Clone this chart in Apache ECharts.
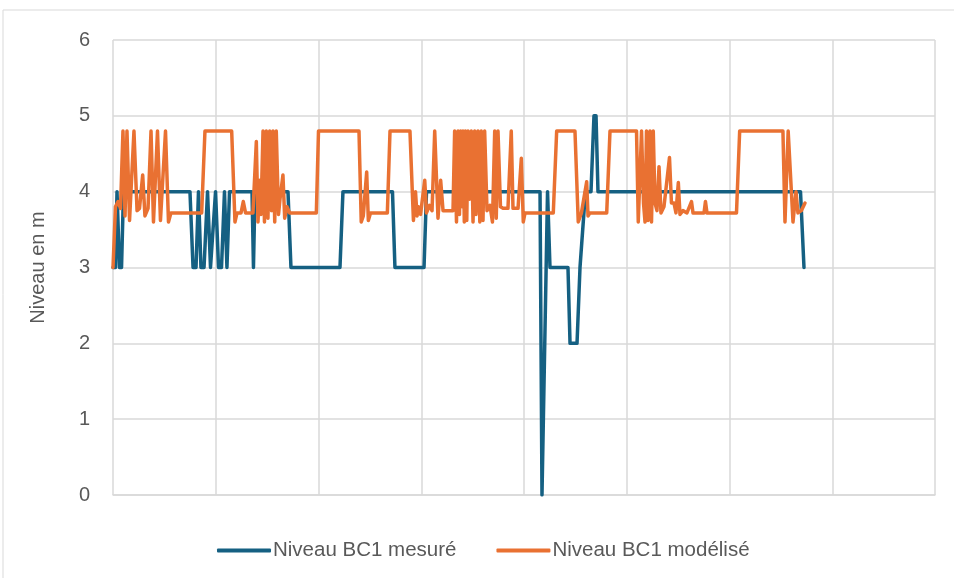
<!DOCTYPE html>
<html>
<head>
<meta charset="utf-8">
<script src="https://cdn.jsdelivr.net/npm/echarts@6/dist/echarts.min.js"></script>
<style>
  html, body { margin: 0; padding: 0; background: #ffffff; }
  #chart { width: 954px; height: 578px; }
</style>
</head>
<body>
<div id="chart"></div>
<script>
// Pas de temps (axe horizontal sans étiquettes) et niveaux en m
const mesureX = [0, 2.4, 3.9, 6.3, 8.3, 10.2, 74.9, 77.9, 80.8, 83.2, 85.6, 88.6, 92.0, 94.9, 96.8, 99.8,
  102.7, 105.6, 108.5, 110.9, 113.4, 135.3, 136.7, 138.2, 170.3, 173.2, 220.9, 223.8, 272.0, 274.4,
  302.7, 305.1, 415.6, 417.5, 422.9, 425.3, 442.8, 444.8, 451.6, 454.5, 456.4, 459.8, 465.2, 468.1,
  470.1, 472.0, 669.1, 672.5];
const mesureNiveau = [3, 3, 4, 3, 3, 4, 4, 3, 3, 4, 3, 3, 4, 3, 3, 4,
  3, 3, 4, 3, 4, 4, 3, 4, 4, 3, 3, 4, 4, 3,
  3, 4, 4, 0, 4, 3, 3, 2, 2, 3, 3, 4, 4, 5,
  5, 4, 4, 3];

const modeleX = [0, 2.4, 4.9, 7.3, 9.7, 11.7, 13.6, 16.1, 20.4, 23.4, 25.8, 28.9, 31.1, 34.1, 37.0, 39.4,
  43.3, 46.2, 51.1, 54.0, 56.4, 86.3, 89.5, 115.5, 118.7, 120.7, 124.6, 126.8, 129.0, 136.2, 139.5,
  141.1, 142.8, 144.0, 146.0, 147.4, 149.2, 150.8, 152.5, 154.3, 155.7, 157.4, 158.9, 161.1, 162.5,
  165.4, 167.1, 169.3, 172.0, 197.9, 200.0, 239.4, 241.6, 243.6, 246.9, 248.5, 250.6, 267.0, 269.6,
  289.0, 292.4, 294.4, 295.9, 297.3, 299.3, 303.4, 305.1, 308.0, 310.5, 313.1, 316.3, 318.9, 321.2,
  330.9, 332.5, 334.3, 335.8, 337.2, 338.4, 339.7, 340.6, 341.9, 342.9, 344.3, 345.5, 347.0, 348.7,
  350.4, 352.0, 353.3, 355.2, 357.0, 358.4, 360.1, 361.7, 364.0, 366.9, 369.3, 371.5, 373.0, 374.7,
  377.1, 379.6, 384.4, 387.6, 389.3, 394.2, 397.4, 399.3, 401.0, 428.5, 431.8, 449.6, 452.8, 455.9,
  457.4, 461.0, 462.3, 464.2, 480.5, 483.7, 509.5, 511.2, 514.4, 516.3, 517.8, 519.2, 520.7, 522.6,
  524.1, 525.8, 527.5, 529.4, 531.4, 533.3, 536.2, 541.6, 543.5, 546.0, 547.9, 550.2, 551.8, 554.7,
  558.6, 563.0, 564.5, 575.2, 576.6, 578.1, 606.8, 609.9, 652.0, 654.0, 657.1, 661.8, 664.7, 666.6,
  669.9, 673.5];
const modeleNiveau = [3.0, 3.8, 3.87, 3.78, 4.8, 3.68, 4.8, 3.62, 4.8, 3.75, 3.78, 4.22, 3.68, 3.78, 4.8, 3.6,
  4.8, 3.62, 4.8, 3.6, 3.72, 3.72, 4.8, 4.8, 3.6, 3.72, 3.72, 3.87, 3.72, 3.72, 4.66,
  3.6, 4.15, 3.7, 4.8, 3.6, 4.8, 3.65, 4.8, 3.75, 4.8, 3.6, 4.8, 3.7, 3.9,
  4.22, 3.65, 3.8, 3.72, 3.72, 4.8, 4.8, 3.6, 3.68, 4.26, 3.62, 3.72, 3.72, 4.8,
  4.8, 3.62, 4.0, 3.68, 3.8, 3.7, 4.15, 3.72, 3.82, 3.75, 4.8, 3.65, 4.15, 3.75,
  3.75, 4.8, 3.6, 4.8, 3.7, 4.8, 3.8, 4.8, 3.6, 4.8, 3.62, 4.8, 3.9, 4.8,
  3.6, 4.8, 3.7, 4.8, 3.6, 4.8, 3.62, 4.8, 3.75, 3.82, 3.6, 4.8, 3.65, 4.8,
  3.8, 3.78, 3.78, 4.8, 3.78, 3.78, 4.44, 3.6, 3.72, 3.72, 4.8, 4.8, 3.6, 3.72,
  3.72, 4.13, 3.68, 3.72, 3.72, 4.8, 4.8, 3.6, 4.8, 3.85, 3.6, 4.8, 3.62, 4.8,
  3.6, 4.8, 3.85, 3.75, 4.33, 3.72, 3.8, 4.45, 3.85, 3.85, 3.72, 4.12, 3.7, 3.75,
  3.72, 3.87, 3.72, 3.72, 3.87, 3.72, 3.72, 4.8, 4.8, 3.6, 4.8, 3.6, 4.0, 3.72,
  3.75, 3.85];

const nomsSeries = ['Niveau BC1 mesuré', 'Niveau BC1 modélisé'];
const couleurs = ['#156082', '#E97132'];

const zip = (xs, ys) => xs.map((x, i) => [x, ys[i]]);

const chart = echarts.init(document.getElementById('chart'), null, { renderer: 'canvas' });
const police = 'Liberation Sans, Arial, sans-serif';
const gris = '#d9d9d9';

chart.setOption({
  animation: false,
  backgroundColor: '#ffffff',
  textStyle: { fontFamily: police, color: '#595959' },
  graphic: [{
    type: 'rect',
    shape: { x: 3, y: 10, width: 980, height: 600 },
    style: { fill: 'none', stroke: gris, lineWidth: 1 },
    silent: true,
    z: -1
  }],
  grid: { left: 113, right: 19, top: 40, bottom: 83, containLabel: false },
  legend: {
    left: 212,
    top: 535,
    itemWidth: 54,
    itemHeight: 4,
    itemGap: 40,
    icon: 'roundRect',
    textStyle: { fontFamily: police, fontSize: 20.5, color: '#595959', padding: [0, 0, 0, -3] },
    data: nomsSeries
  },
  xAxis: {
    type: 'value',
    min: 0,
    max: 800,
    interval: 100,
    axisLabel: { show: false },
    axisTick: { show: false },
    axisLine: { show: true, lineStyle: { color: gris, width: 1.5 } },
    splitLine: { show: true, lineStyle: { color: gris, width: 1.5 } }
  },
  yAxis: {
    type: 'value',
    min: 0,
    max: 6,
    interval: 1,
    name: 'Niveau en m',
    nameLocation: 'middle',
    nameGap: 65,
    nameTextStyle: { fontFamily: police, fontSize: 20, color: '#595959' },
    axisLabel: { fontFamily: police, fontSize: 20, color: '#595959', margin: 23 },
    axisTick: { show: false },
    axisLine: { show: false },
    splitLine: { show: true, lineStyle: { color: gris, width: 1.5 } }
  },
  series: [
    {
      name: nomsSeries[0],
      type: 'line',
      data: zip(mesureX, mesureNiveau),
      showSymbol: false,
      color: couleurs[0],
      lineStyle: { width: 3.5, color: couleurs[0], join: 'round', cap: 'round' }
    },
    {
      name: nomsSeries[1],
      type: 'line',
      data: zip(modeleX, modeleNiveau),
      showSymbol: false,
      color: couleurs[1],
      lineStyle: { width: 3.5, color: couleurs[1], join: 'round', cap: 'round' }
    }
  ]
});
</script>
</body>
</html>
